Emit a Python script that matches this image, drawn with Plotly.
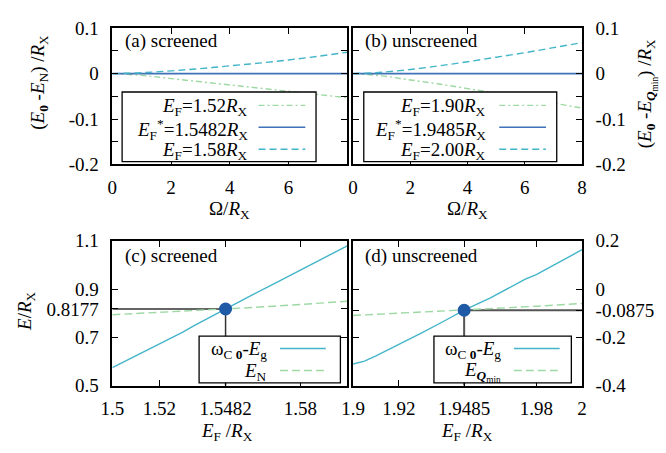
import plotly.graph_objects as go

# ---------------- data ----------------
omega = [0, 1, 2, 3, 4, 5, 6, 7, 8]
a_ef152 = [0, -0.004, -0.011, -0.018, -0.025, -0.032, -0.039, -0.046, -0.053]
a_efstar = [0, 0, 0, 0, 0, 0, 0, 0, 0]
a_ef158 = [0, 0.002, 0.006, 0.011, 0.017, 0.023, 0.030, 0.038, 0.047]

b_ef190 = [0, -0.005, -0.014, -0.023, -0.033, -0.043, -0.054, -0.065, -0.076]
b_efstar = [0, 0, 0, 0, 0, 0, 0, 0, 0]
b_ef200 = [0, 0.003, 0.009, 0.017, 0.026, 0.036, 0.046, 0.057, 0.068]

c_ef = [1.5, 1.51, 1.52, 1.53, 1.535, 1.54, 1.5482, 1.56, 1.57, 1.58, 1.59, 1.6]
c_omega = [0.575, 0.624, 0.674, 0.722, 0.750, 0.776, 0.8177, 0.878, 0.928, 0.979, 1.029, 1.079]
c_en_ef = [1.5, 1.52, 1.54, 1.5482, 1.56, 1.58, 1.6]
c_en = [0.794, 0.803, 0.813, 0.8177, 0.824, 0.836, 0.850]

d_ef = [1.9, 1.905, 1.91, 1.92, 1.93, 1.94, 1.9485, 1.96, 1.97, 1.975, 1.98, 1.99, 2.0]
d_omega = [-0.310, -0.298, -0.276, -0.229, -0.181, -0.131, -0.0875, -0.036, 0.016, 0.040, 0.060, 0.110, 0.163]
d_eq_ef = [1.9, 1.92, 1.94, 1.9485, 1.96, 1.98, 2.0]
d_eq = [-0.109, -0.100, -0.091, -0.0875, -0.082, -0.071, -0.059]

c_star = (1.5482, 0.8177)
d_star = (1.9485, -0.0875)

top_x_ticks = [0, 2, 4, 6, 8]
top_y_ticks = [-0.2, -0.15, -0.1, -0.05, 0, 0.05, 0.1]
top_y_text = ["-0.2", "", "-0.1", "", "0", "", "0.1"]
c_x_ticks = [1.5, 1.52, 1.5482, 1.58]
c_y_ticks = [0.5, 0.7, 0.8177, 0.9, 1.1]
d_x_ticks = [1.9, 1.92, 1.9485, 1.98, 2.0]
d_y_ticks = [-0.4, -0.2, -0.0875, 0, 0.2]

legend_a = ["<i>E</i><sub>F</sub>=1.52<i>R</i><sub>X</sub>",
            "<i>E</i><sub>F</sub><sup>*</sup>=1.5482<i>R</i><sub>X</sub>",
            "<i>E</i><sub>F</sub>=1.58<i>R</i><sub>X</sub>"]
legend_b = ["<i>E</i><sub>F</sub>=1.90<i>R</i><sub>X</sub>",
            "<i>E</i><sub>F</sub><sup>*</sup>=1.9485<i>R</i><sub>X</sub>",
            "<i>E</i><sub>F</sub>=2.00<i>R</i><sub>X</sub>"]
legend_c = ["ω<sub>C <b>0</b></sub>-<i>E</i><sub>g</sub>", "<i>E</i><sub>N</sub>"]
legend_d = ["ω<sub>C <b>0</b></sub>-<i>E</i><sub>g</sub>", "<i>E</i><sub><b><i>Q</i></b><sub>min</sub></sub>"]

# ---------------- styles ----------------
GREEN = "#9ed9a4"
BLUE = "#3f72b8"
CYAN = "#43b5c8"
DOT = "#1f5aa6"
FONT = "Liberation Serif, Times New Roman, DejaVu Serif, serif"
FS = 19
W, H = 666, 453


def px(x):
    return x / W


def py(y):
    return 1 - y / H


DASHDOT = "6px,3px,2px,3px"
DASH = "7px,4px"

fig = go.Figure()

# panel a
fig.add_trace(go.Scatter(x=omega, y=a_ef152, xaxis="x", yaxis="y", mode="lines",
                         line=dict(color=GREEN, width=1.4, dash=DASHDOT, shape="spline")))
fig.add_trace(go.Scatter(x=omega, y=a_efstar, xaxis="x", yaxis="y", mode="lines",
                         line=dict(color=BLUE, width=1.6)))
fig.add_trace(go.Scatter(x=omega, y=a_ef158, xaxis="x", yaxis="y", mode="lines",
                         line=dict(color=CYAN, width=1.4, dash=DASH, shape="spline")))
# panel b
fig.add_trace(go.Scatter(x=omega, y=b_ef190, xaxis="x2", yaxis="y2", mode="lines",
                         line=dict(color=GREEN, width=1.4, dash=DASHDOT, shape="spline")))
fig.add_trace(go.Scatter(x=omega, y=b_efstar, xaxis="x2", yaxis="y2", mode="lines",
                         line=dict(color=BLUE, width=1.6)))
fig.add_trace(go.Scatter(x=omega, y=b_ef200, xaxis="x2", yaxis="y2", mode="lines",
                         line=dict(color=CYAN, width=1.4, dash=DASH, shape="spline")))
# panel c
fig.add_trace(go.Scatter(x=[c_x_ticks[0], c_star[0], c_star[0]],
                         y=[c_star[1], c_star[1], c_y_ticks[0]], xaxis="x3", yaxis="y3",
                         mode="lines", line=dict(color="#333333", width=1.5)))
fig.add_trace(go.Scatter(x=c_en_ef, y=c_en, xaxis="x3", yaxis="y3", mode="lines",
                         line=dict(color=GREEN, width=1.4, dash="8px,4px")))
fig.add_trace(go.Scatter(x=c_ef, y=c_omega, xaxis="x3", yaxis="y3", mode="lines",
                         line=dict(color=CYAN, width=1.4)))
fig.add_trace(go.Scatter(x=[c_star[0]], y=[c_star[1]], xaxis="x3", yaxis="y3", mode="markers",
                         marker=dict(color=DOT, size=13)))
# panel d
fig.add_trace(go.Scatter(x=[d_x_ticks[-1], d_star[0], d_star[0]],
                         y=[d_star[1], d_star[1], d_y_ticks[0]], xaxis="x4", yaxis="y4",
                         mode="lines", line=dict(color="#555555", width=2)))
fig.add_trace(go.Scatter(x=d_eq_ef, y=d_eq, xaxis="x4", yaxis="y4", mode="lines",
                         line=dict(color=GREEN, width=1.4, dash="8px,4px")))
fig.add_trace(go.Scatter(x=d_ef, y=d_omega, xaxis="x4", yaxis="y4", mode="lines",
                         line=dict(color=CYAN, width=1.4)))
fig.add_trace(go.Scatter(x=[d_star[0]], y=[d_star[1]], xaxis="x4", yaxis="y4", mode="markers",
                         marker=dict(color=DOT, size=13)))

axis_common = dict(showline=True, linecolor="black", linewidth=1.5, mirror="ticks",
                   showgrid=False, zeroline=False, ticks="inside", ticklen=6,
                   tickcolor="black", tickwidth=1,
                   tickfont=dict(family=FONT, size=FS, color="black"))

fig.update_layout(
    width=W, height=H, autosize=False,
    margin=dict(l=0, r=0, t=0, b=0),
    paper_bgcolor="white", plot_bgcolor="white",
    showlegend=False,
    font=dict(family=FONT, size=FS, color="black"),
    xaxis=dict(domain=[px(103), px(344)], range=[0, 8], anchor="y",
               tickvals=top_x_ticks, ticktext=["0", "2", "4", "6", ""],
               ticklabelstandoff=5, **axis_common),
    yaxis=dict(domain=[py(162), py(19)], range=[-0.2, 0.1], anchor="x",
               tickvals=top_y_ticks, ticktext=top_y_text, ticklabelstandoff=8, **axis_common),
    xaxis2=dict(domain=[px(350), px(585)], range=[0, 8], anchor="y2",
                tickvals=top_x_ticks, ticktext=["0", "2", "4", "6", "8"],
                ticklabelstandoff=5, **axis_common),
    yaxis2=dict(domain=[py(162), py(19)], range=[-0.2, 0.1], anchor="x2", side="right",
                tickvals=top_y_ticks, ticktext=top_y_text, ticklabelstandoff=8, **axis_common),
    xaxis3=dict(domain=[px(103), px(344)], range=[1.5, 1.6], anchor="y3",
                tickvals=c_x_ticks, ticktext=["1.5", "1.52", "1.5482", "1.58"],
                ticklabelstandoff=5, **axis_common),
    yaxis3=dict(domain=[py(394), py(242)], range=[0.5, 1.1], anchor="x3",
                tickvals=c_y_ticks, ticktext=["0.5", "0.7", "0.8177", "0.9", "1.1"],
                ticklabelstandoff=8, **axis_common),
    xaxis4=dict(domain=[px(350), px(585)], range=[1.9, 2.0], anchor="y4",
                tickvals=d_x_ticks, ticktext=["1.9", "1.92", "1.9485", "1.98", "2"],
                ticklabelstandoff=5, **axis_common),
    yaxis4=dict(domain=[py(394), py(242)], range=[-0.4, 0.2], anchor="x4", side="right",
                tickvals=d_y_ticks, ticktext=["-0.4", "-0.2", "-0.0875", "0", "0.2"],
                ticklabelstandoff=8, **axis_common),
)

shapes = []
annotations = []


def text(x, y, s, xanchor="center", yanchor="middle", angle=0, size=FS):
    annotations.append(dict(x=px(x), y=py(y), xref="paper", yref="paper", text=s,
                             showarrow=False, xanchor=xanchor, yanchor=yanchor,
                             textangle=angle, borderpad=0,
                             font=dict(family=FONT, size=size, color="black")))


def legend(box, labels, styles, text_right, sample_x, rows):
    x0, y0, x1, y1 = box
    shapes.append(dict(type="rect", xref="paper", yref="paper", layer="above",
                       x0=px(x0), x1=px(x1), y0=py(y1), y1=py(y0),
                       line=dict(color="black", width=1.3), fillcolor="white"))
    for lab, (col, dash, w), ry in zip(labels, styles, rows):
        shapes.append(dict(type="line", xref="paper", yref="paper", layer="above",
                           x0=px(sample_x[0]), x1=px(sample_x[1]), y0=py(ry), y1=py(ry),
                           line=dict(color=col, dash=dash, width=w)))
        text(text_right, ry + 2, lab, xanchor="right")


top_styles = [(GREEN, DASHDOT, 1.4), (BLUE, "solid", 1.6), (CYAN, DASH, 1.4)]
bot_styles = [(CYAN, "solid", 1.4), (GREEN, "8px,4px", 1.4)]
legend((113, 86, 312, 159), legend_a, top_styles, 243, (253, 301), [100, 123, 146])
legend((361, 86, 559, 159), legend_b, top_styles, 487, (500, 548), [100, 123, 146])
legend((192, 342, 337, 391), legend_c, bot_styles, 263, (275, 322), [355, 378])
legend((433, 342, 574, 391), legend_d, bot_styles, 503, (515, 562), [355, 378])

# panel labels
text(115, 33, "(a) screened", xanchor="left")
text(361, 33, "(b) unscreened", xanchor="left")
text(115, 258, "(c) screened", xanchor="left")
text(361, 258, "(d) unscreened", xanchor="left")

# axis titles
text(28, 76, "(<i>E</i><sub><b>0</b></sub> -<i>E</i><sub>N</sub>) /<i>R</i><sub>X</sub>", angle=-90)
text(652, 88, "(<i>E</i><sub><b>0</b></sub> -<i>E</i><sub><b><i>Q</i></b><sub>min</sub></sub>) /<i>R</i><sub>X</sub>", angle=-90)
text(15, 316, "<i>E</i>/<i>R</i><sub>X</sub>", angle=-90)
text(223, 210, "Ω/<i>R</i><sub>X</sub>")
text(467, 210, "Ω/<i>R</i><sub>X</sub>")
text(221, 442, "<i>E</i><sub>F</sub> /<i>R</i><sub>X</sub>")
text(467, 442, "<i>E</i><sub>F</sub> /<i>R</i><sub>X</sub>")

fig.update_layout(shapes=shapes, annotations=annotations)
fig.write_html("out.html")
